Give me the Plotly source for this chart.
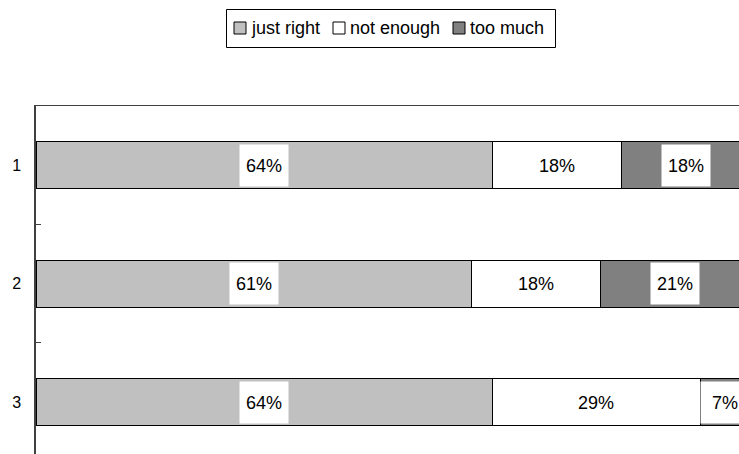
import plotly.graph_objects as go

# Survey rows and the share of answers in each group (percent)
categories = ["1", "2", "3"]
series_names = ["just right", "not enough", "too much"]
just_right = [64, 61, 64]
not_enough = [18, 18, 29]
too_much = [18, 21, 7]
series_values = [just_right, not_enough, too_much]
series_colors = ["#C0C0C0", "#FFFFFF", "#808080"]

FONT = "Liberation Sans, Arial, sans-serif"
W, H = 739, 454
ML, MT = 36, 106
PW, PH = W - ML, H - MT


def px_x(px):
    """Pixel column -> paper x."""
    return (px - ML) / PW


def px_y(py):
    """Pixel row -> paper y."""
    return (H - py) / PH


fig = go.Figure()
for name, vals, col in zip(series_names, series_values, series_colors):
    fig.add_trace(go.Bar(
        y=categories, x=vals, name=name, orientation="h",
        marker=dict(color=col, line=dict(color="#000000", width=1)),
        showlegend=False,
    ))

# Value labels in white boxes at the middle of each segment
annotations = []
for i, cat in enumerate(categories):
    start = 0
    for vals in series_values:
        v = vals[i]
        annotations.append(dict(
            x=start + v / 2, y=i, xref="x", yref="y",
            text=f"{v}%", showarrow=False,
            bgcolor="#FFFFFF", width=46, height=39, borderpad=1,
            font=dict(family=FONT, size=18, color="#000000"),
        ))
        start += v

# Compact boxed key above the plot
shapes = [dict(
    type="rect", xref="paper", yref="paper",
    x0=px_x(226.5), x1=px_x(555.5), y0=px_y(47.5), y1=px_y(9.5),
    line=dict(color="#000000", width=1), fillcolor="#FFFFFF", layer="above",
)]
swatch_left = [234, 333, 453]
for name, col, sx in zip(series_names, series_colors, swatch_left):
    shapes.append(dict(
        type="rect", xref="paper", yref="paper",
        x0=px_x(sx), x1=px_x(sx + 12), y0=px_y(34), y1=px_y(22),
        line=dict(color="#000000", width=1), fillcolor=col, layer="above",
    ))
    annotations.append(dict(
        x=px_x(sx + 15), y=px_y(28), xref="paper", yref="paper",
        xanchor="left", yanchor="middle", text=name, showarrow=False,
        font=dict(family=FONT, size=18, color="#000000"),
    ))

fig.update_layout(
    width=W, height=H,
    margin=dict(l=ML, r=0, t=MT, b=0),
    paper_bgcolor="#FFFFFF", plot_bgcolor="#FFFFFF",
    barmode="stack", bargap=0.6,
    font=dict(family=FONT, size=16, color="#000000"),
    showlegend=False,
    annotations=annotations,
    shapes=shapes,
    xaxis=dict(
        range=[0, 98.46], side="top", showline=True, linecolor="#404040",
        linewidth=1, showticklabels=False, ticks="", showgrid=False,
        zeroline=False, fixedrange=True,
    ),
    yaxis=dict(
        type="category", range=[2.437, -0.5], showline=True,
        linecolor="#404040", linewidth=1.5, ticks="inside", ticklen=5,
        tickcolor="#404040", tickson="boundaries", showgrid=False,
        zeroline=False, ticklabelstandoff=10,
        tickfont=dict(family=FONT, size=16, color="#000000"),
    ),
)

fig.write_html("out.html")
